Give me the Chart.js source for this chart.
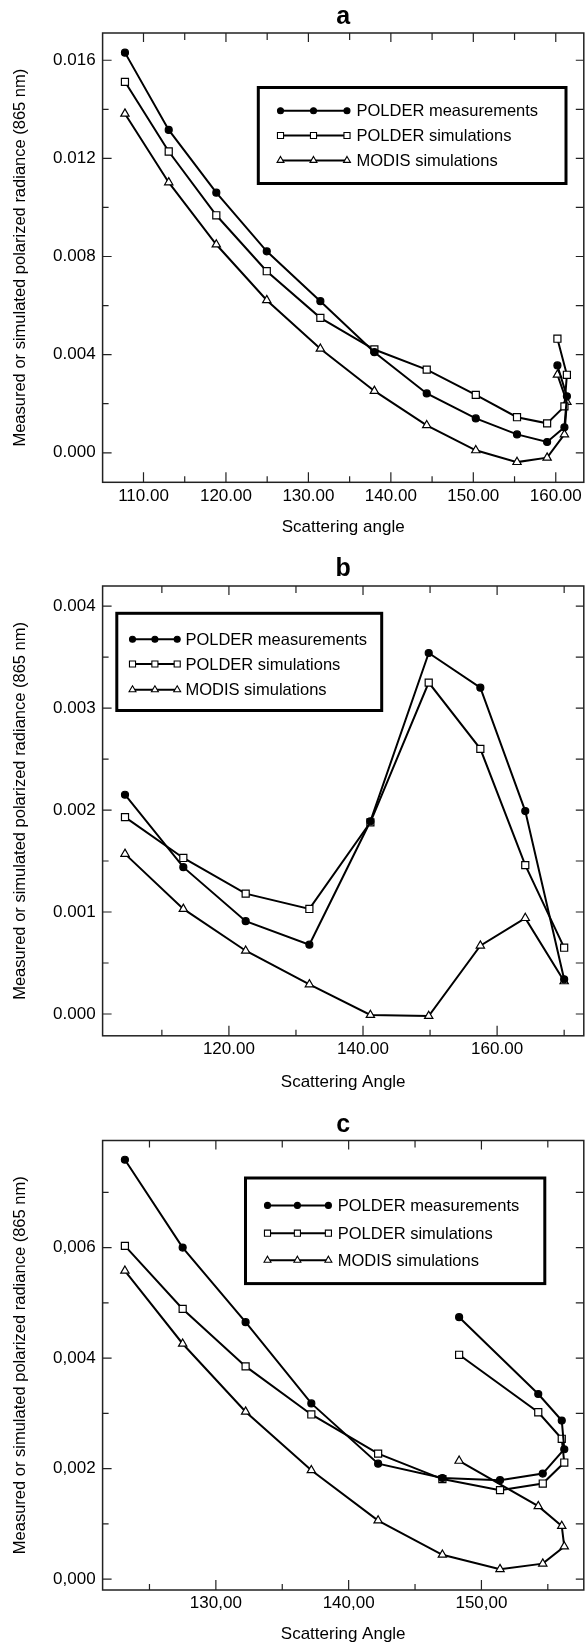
<!DOCTYPE html>
<html>
<head>
<meta charset="utf-8">
<title>Polarized radiance vs scattering angle</title>
<script src="https://cdn.jsdelivr.net/npm/chart.js@4.4.1/dist/chart.umd.min.js"></script>
<style>
    html, body { margin: 0; padding: 0; background: #fff; overflow: hidden; width: 585px; height: 1645px; }
    .panel { position: absolute; left: 0; }
    canvas { display: block; }
</style>
</head>
<body>
<div class="panel" style="top:0px"><canvas id="chartA" width="590" height="553"></canvas></div>
<div class="panel" style="top:553px"><canvas id="chartB" width="590" height="553"></canvas></div>
<div class="panel" style="top:1107px"><canvas id="chartC" width="590" height="538"></canvas></div>
<script>
// Series names / markers shared by the three panels
const seriesNames = ['POLDER measurements', 'POLDER simulations', 'MODIS simulations'];
const seriesMarkers = ['circle', 'rect', 'triangle'];
const yAxisTitle = 'Measured or simulated polarized radiance (865 nm)';

// Panel a
const anglesA = [107.75, 113.06, 118.83, 124.95, 131.45, 138.0, 144.35, 150.3, 155.3, 158.95, 161.05, 161.35, 160.2];
const polderMeasA = [0.01631, 0.01316, 0.01060, 0.00821, 0.00618, 0.00410, 0.00242, 0.00140, 0.00075, 0.00044, 0.00104, 0.00230, 0.00356];
const polderSimA = [0.01512, 0.01228, 0.00968, 0.00740, 0.00550, 0.00421, 0.00339, 0.00236, 0.00145, 0.00120, 0.00189, 0.00318, 0.00465];
const modisSimA = [0.01382, 0.01102, 0.00849, 0.00622, 0.00424, 0.00252, 0.00112, 0.00010, -0.00038, -0.00020, 0.00075, 0.00207, 0.00318];
const xMajorA = [110, 120, 130, 140, 150, 160];
const xMinorA = [115, 125, 135, 145, 155];
const yMajorA = [0, 0.004, 0.008, 0.012, 0.016];
const yMinorA = [0.002, 0.006, 0.010, 0.014];

// Panel b
const anglesB = [104.5, 113.2, 122.5, 132.0, 141.1, 149.8, 157.5, 164.2, 170.0];
const polderMeasB = [0.00215, 0.00144, 0.00091, 0.00068, 0.00189, 0.00354, 0.00320, 0.00199, 0.00034];
const polderSimB = [0.00193, 0.00153, 0.00118, 0.00103, 0.00188, 0.00325, 0.00260, 0.00146, 0.00065];
const modisSimB = [0.00157, 0.00103, 0.00062, 0.00029, -0.00001, -0.00002, 0.00067, 0.00094, 0.00032];
const xMajorB = [120, 140, 160];
const xMinorB = [110, 130, 150, 170];
const yMajorB = [0, 0.001, 0.002, 0.003, 0.004];
const yMinorB = [0.0005, 0.0015, 0.0025, 0.0035];

// Panel c
const anglesC = [123.15, 127.5, 132.24, 137.19, 142.22, 147.06, 151.4, 154.62, 156.24, 156.05, 154.28, 148.32];
const polderMeasC = [0.00759, 0.00600, 0.00465, 0.00318, 0.00209, 0.00183, 0.00179, 0.00191, 0.00235, 0.00287, 0.00335, 0.00474];
const polderSimC = [0.00603, 0.00489, 0.00385, 0.00298, 0.00227, 0.00181, 0.00161, 0.00173, 0.00211, 0.00254, 0.00302, 0.00406];
const modisSimC = [0.00558, 0.00426, 0.00303, 0.00197, 0.00106, 0.00044, 0.00018, 0.00028, 0.00059, 0.00096, 0.00132, 0.00214];
const xMajorC = [130, 140, 150];
const xMinorC = [125, 135, 145, 155];
const yMajorC = [0, 0.002, 0.004, 0.006];
const yMinorC = [0.001, 0.003, 0.005, 0.007];

Chart.defaults.font.family = '"Liberation Sans", Arial, Helvetica, sans-serif';
Chart.defaults.color = '#000';
Chart.defaults.animation = false;

const FONT = '"Liberation Sans", Arial, Helvetica, sans-serif';

function drawMarker(ctx, style, r, x, y) {
    ctx.beginPath();
    if (style === 'circle') {
        ctx.arc(x, y, r, 0, Math.PI * 2);
    } else if (style === 'rect') {
        const s = r * Math.SQRT1_2;
        ctx.rect(x - s, y - s, 2 * s, 2 * s);
    } else {
        // triangle, same geometry as Chart.js
        ctx.moveTo(x, y - r);
        ctx.lineTo(x + Math.sin(2 * Math.PI / 3) * r, y + r / 2);
        ctx.lineTo(x - Math.sin(2 * Math.PI / 3) * r, y + r / 2);
        ctx.closePath();
    }
    ctx.fill();
    ctx.stroke();
}

// Frame + inward tick marks on all four sides
const framePlugin = {
    id: 'frame',
    afterDatasetsDraw(chart, args, opts) {
        const ctx = chart.ctx;
        const a = chart.chartArea;
        const xs = chart.scales.x, ys = chart.scales.y;
        ctx.save();
        ctx.strokeStyle = '#222';
        ctx.lineWidth = 1.5;
        ctx.strokeRect(a.left, a.top, a.right - a.left, a.bottom - a.top);
        ctx.lineWidth = 1.2;
        ctx.beginPath();
        const seg = (x1, y1, x2, y2) => { ctx.moveTo(x1, y1); ctx.lineTo(x2, y2); };
        opts.xMajor.forEach(v => {
            const p = xs.getPixelForValue(v);
            seg(p, a.bottom, p, a.bottom - 10);
            seg(p, a.top, p, a.top + 9);
        });
        opts.xMinor.forEach(v => {
            const p = xs.getPixelForValue(v);
            seg(p, a.bottom, p, a.bottom - 6);
            seg(p, a.top, p, a.top + 7);
        });
        opts.yMajor.forEach(v => {
            const p = ys.getPixelForValue(v);
            seg(a.left, p, a.left + 9, p);
            seg(a.right, p, a.right - 8, p);
        });
        opts.yMinor.forEach(v => {
            const p = ys.getPixelForValue(v);
            seg(a.left, p, a.left + 6, p);
            seg(a.right, p, a.right - 8, p);
        });
        ctx.stroke();
        ctx.restore();
    }
};

// Boxed legend with line + three markers per entry
const boxLegendPlugin = {
    id: 'boxLegend',
    afterDraw(chart, args, opts) {
        const ctx = chart.ctx;
        const b = opts.box;
        ctx.save();
        ctx.fillStyle = '#fff';
        ctx.fillRect(b[0], b[1], b[2] - b[0], b[3] - b[1]);
        ctx.strokeStyle = '#000';
        ctx.lineWidth = 3;
        ctx.strokeRect(b[0], b[1], b[2] - b[0], b[3] - b[1]);
        chart.data.datasets.forEach((ds, i) => {
            const yRow = opts.rows[i];
            ctx.strokeStyle = '#000';
            ctx.lineWidth = 2;
            ctx.beginPath();
            ctx.moveTo(opts.marks[0], yRow);
            ctx.lineTo(opts.marks[opts.marks.length - 1], yRow);
            ctx.stroke();
            ctx.lineWidth = 1.1;
            ctx.fillStyle = ds.pointBackgroundColor;
            const r = ds.pointStyle === 'circle' ? 3 : (ds.pointStyle === 'rect' ? 4.3 : 4);
            opts.marks.forEach(mx => drawMarker(ctx, ds.pointStyle, r, mx, yRow));
            ctx.fillStyle = '#000';
            ctx.font = '16.5px ' + FONT;
            ctx.textAlign = 'left';
            ctx.textBaseline = 'middle';
            ctx.fillText(ds.label, opts.textX, yRow + 1);
        });
        ctx.restore();
    }
};

function makeDatasets(xs, meas, sim, modis) {
    return [meas, sim, modis].map((ys, i) => ({
        label: seriesNames[i],
        data: xs.map((x, k) => ({ x: x, y: ys[k] })),
        showLine: true,
        borderColor: '#000',
        borderWidth: 2,
        tension: 0,
        pointStyle: seriesMarkers[i],
        pointRadius: i === 0 ? 3.5 : (i === 1 ? 5 : 4.8),
        pointBackgroundColor: i === 0 ? '#000' : '#fff',
        pointBorderColor: '#000',
        pointBorderWidth: 1.2
    }));
}

function makePanel(canvasId, p) {
    const canvas = document.getElementById(canvasId);
    const H = canvas.height;
    const fmt = (v, d) => {
        const s = v.toFixed(d);
        return p.comma ? s.replace('.', ',') : s;
    };
    return new Chart(canvas.getContext('2d'), {
        type: 'scatter',
        data: { datasets: makeDatasets(p.angles, p.meas, p.sim, p.modis) },
        options: {
            responsive: false,
            animation: false,
            layout: { padding: { left: 0, top: 0, bottom: 0, right: 4 } },
            plugins: {
                legend: { display: false },
                tooltip: { enabled: false },
                title: {
                    display: true,
                    text: p.title,
                    fullSize: false,
                    color: '#000',
                    font: { size: 25, weight: 'bold' },
                    padding: { top: p.titlePad[0], bottom: p.titlePad[1] }
                },
                frame: { xMajor: p.xMajor, xMinor: p.xMinor, yMajor: p.yMajor, yMinor: p.yMinor },
                boxLegend: p.legend
            },
            scales: {
                x: {
                    type: 'linear',
                    min: p.xRange[0],
                    max: p.xRange[1],
                    grid: { display: false, drawTicks: false },
                    border: { display: false },
                    afterBuildTicks: s => { s.ticks = p.xMajor.map(v => ({ value: v })); },
                    afterFit: s => { s.height = H - p.areaBottom; },
                    ticks: { autoSkip: false, maxRotation: 0, padding: 3.5, font: { size: 17 }, callback: v => fmt(v, 2) },
                    title: { display: true, text: p.xTitle, font: { size: 17 }, padding: { top: 0, bottom: p.xTitlePad } }
                },
                y: {
                    type: 'linear',
                    min: p.yRange[0],
                    max: p.yRange[1],
                    grid: { display: false, drawTicks: false },
                    border: { display: false },
                    afterBuildTicks: s => { s.ticks = p.yMajor.map(v => ({ value: v })); },
                    afterFit: s => { s.width = 102.6; },
                    ticks: { autoSkip: false, padding: 7, font: { size: 17 }, callback: v => fmt(v, 3) },
                    title: { display: true, text: yAxisTitle, font: { size: 16.5 }, padding: { top: 10.6, bottom: 0 } }
                }
            }
        },
        plugins: [framePlugin, boxLegendPlugin]
    });
}

makePanel('chartA', {
    title: 'a', xTitle: 'Scattering angle', comma: false,
    angles: anglesA, meas: polderMeasA, sim: polderSimA, modis: modisSimA,
    xMajor: xMajorA, xMinor: xMinorA, yMajor: yMajorA, yMinor: yMinorA,
    xRange: [105.04, 163.40], yRange: [-0.001203, 0.01711],
    titlePad: [2.2, 0.8], areaBottom: 482.3, xTitlePad: 15.9,
    legend: { box: [258.3, 87.5, 566, 183.5], rows: [110.7, 135.5, 160.4], marks: [280.5, 313.5, 347], textX: 356.5 }
});

makePanel('chartB', {
    title: 'b', xTitle: 'Scattering Angle', comma: false,
    angles: anglesB, meas: polderMeasB, sim: polderSimB, modis: modisSimB,
    xMajor: xMajorB, xMinor: xMinorB, yMajor: yMajorB, yMinor: yMinorB,
    xRange: [101.16, 172.93], yRange: [-0.000214, 0.004197],
    titlePad: [1.3, 1.7], areaBottom: 482.8, xTitlePad: 13.5,
    legend: { box: [116.8, 60.3, 381.7, 157.5], rows: [86.2, 111, 136.8], marks: [132.5, 154.9, 177.2], textX: 185.4 }
});

makePanel('chartC', {
    title: 'c', xTitle: 'Scattering Angle', comma: true,
    angles: anglesC, meas: polderMeasC, sim: polderSimC, modis: modisSimC,
    xMajor: xMajorC, xMinor: xMinorC, yMajor: yMajorC, yMinor: yMinorC,
    xRange: [121.47, 157.71], yRange: [-0.000197, 0.007938],
    titlePad: [3, 0.5], areaBottom: 483, xTitlePad: 0,
    legend: { box: [245.5, 71, 544.8, 176.6], rows: [98.4, 126.2, 153.2], marks: [267.5, 297.4, 328.4], textX: 337.7 }
});
</script>
</body>
</html>
